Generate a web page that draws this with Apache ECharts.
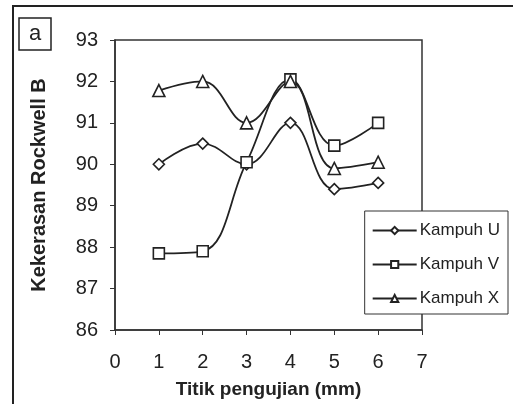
<!DOCTYPE html>
<html>
<head>
<meta charset="utf-8">
<script src="https://cdn.jsdelivr.net/npm/echarts@6/dist/echarts.min.js"></script>
<style>
  html, body { margin: 0; padding: 0; background: #fff; }
  #main { width: 513px; height: 404px; }
</style>
</head>
<body>
<div id="main"></div>
<script>
var points = [1, 2, 3, 4, 5, 6];
var kampuhU = [90.0, 90.5, 90.0, 91.0, 89.4, 89.55];
var kampuhV = [87.85, 87.9, 90.05, 92.05, 90.45, 91.0];
var kampuhX = [91.78, 92.0, 91.0, 92.0, 89.9, 90.05];
var seriesNames = ['Kampuh U', 'Kampuh V', 'Kampuh X'];

var chart = echarts.init(document.getElementById('main'));

function pairs(vals) {
  return vals.map(function (v, i) { return [points[i], v]; });
}

function makeSeries(name, vals, symbol, size) {
  return {
    name: name,
    type: 'line',
    smooth: 0.4,
    data: pairs(vals),
    symbol: symbol,
    symbolSize: size,
    lineStyle: { color: '#222', width: 1.8 },
    itemStyle: { color: '#fff', borderColor: '#222', borderWidth: 1.6 }
  };
}

var font = 'Liberation Sans, Arial, sans-serif';

var option = {
  backgroundColor: '#fff',
  animation: false,
  graphic: [
    { type: 'polyline', shape: { points: [[13, 404], [13, 6], [513, 6]] },
      style: { stroke: '#222', lineWidth: 2, fill: null } },
    { type: 'rect', shape: { x: 19, y: 18, width: 32, height: 32 },
      style: { stroke: '#222', lineWidth: 1.5, fill: '#fff' } },
    { type: 'text', x: 35, y: 34,
      style: { text: 'a', font: '22px ' + font, fill: '#222', align: 'center', verticalAlign: 'middle' } }
  ],
  legend: {
    data: seriesNames,
    orient: 'vertical',
    right: 5,
    top: 211,
    itemWidth: 44,
    itemHeight: 9,
    itemGap: 17,
    padding: [11, 8, 7, 7],
    borderColor: '#333',
    borderWidth: 1,
    backgroundColor: '#fff',
    textStyle: { fontFamily: font, fontSize: 17, color: '#222', padding: [0, 0, 0, -2] }
  },
  grid: {
    left: 115,
    right: 91,
    top: 40,
    bottom: 72,
    show: true,
    borderColor: '#333',
    borderWidth: 1.5
  },
  xAxis: {
    type: 'value',
    min: 0,
    max: 7,
    interval: 1,
    name: 'Titik pengujian (mm)',
    nameLocation: 'middle',
    nameGap: 50,
    nameTextStyle: { fontFamily: font, fontSize: 19, fontWeight: 'bold', color: '#222' },
    axisLine: { lineStyle: { color: '#333', width: 1.5 } },
    axisTick: { show: true, inside: false, length: 5, lineStyle: { color: '#333' } },
    axisLabel: { fontFamily: font, fontSize: 20, color: '#222', margin: 22 },
    splitLine: { show: false }
  },
  yAxis: {
    type: 'value',
    min: 86,
    max: 93,
    interval: 1,
    name: 'Kekerasan Rockwell B',
    nameLocation: 'middle',
    nameGap: 66,
    nameTextStyle: { fontFamily: font, fontSize: 20, fontWeight: 'bold', color: '#222' },
    axisLine: { lineStyle: { color: '#333', width: 1.5 } },
    axisTick: { show: true, inside: false, length: 5, lineStyle: { color: '#333' } },
    axisLabel: { fontFamily: font, fontSize: 20, color: '#222', margin: 17 },
    splitLine: { show: false }
  },
  series: [
    makeSeries(seriesNames[0], kampuhU, 'diamond', 11),
    makeSeries(seriesNames[1], kampuhV, 'rect', 11),
    makeSeries(seriesNames[2], kampuhX, 'triangle', 12)
  ]
};

chart.setOption(option);
</script>
</body>
</html>
